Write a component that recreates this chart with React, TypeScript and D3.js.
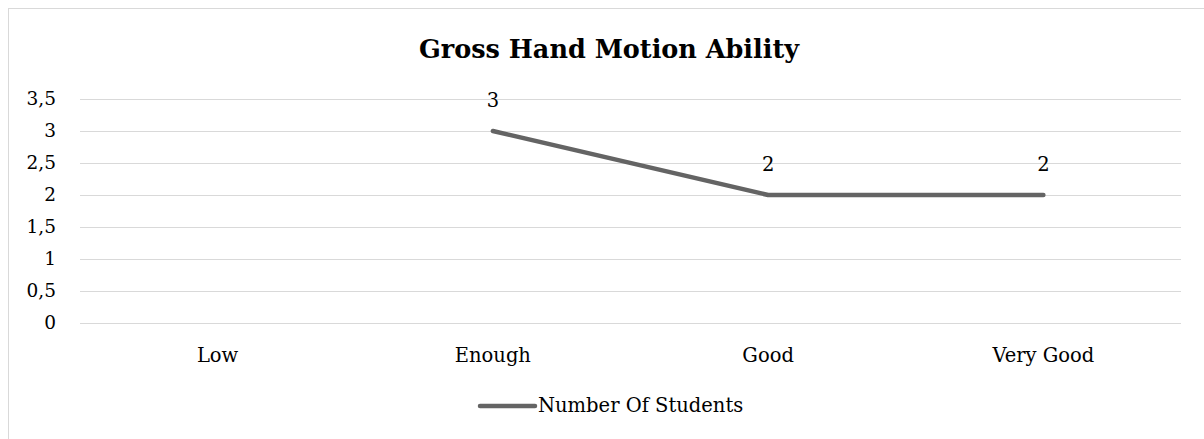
import React from "react";
import * as d3 from "d3";

const title = "Gross Hand Motion Ability";
const categories = ["Low", "Enough", "Good", "Very Good"];
const seriesName = "Number Of Students";
const values: (number | null)[] = [null, 3, 2, 2];
const yTicks = [0, 0.5, 1, 1.5, 2, 2.5, 3, 3.5];

const W = 1204;
const H = 439;
const FONT = "'DejaVu Serif', serif";

export default function App() {
  const x = d3.scaleBand<string>().domain(categories).range([80, 1181]).padding(0);
  const y = d3.scaleLinear().domain([0, 3.5]).range([323, 99]);
  const cx = (c: string) => (x(c) as number) + x.bandwidth() / 2;
  const pts = categories.map((c, i) => ({ c, v: values[i] }));
  const line = d3
    .line<{ c: string; v: number | null }>()
    .defined((d) => d.v !== null)
    .x((d) => cx(d.c))
    .y((d) => y(d.v as number));
  const fmt = (v: number) => String(v).replace(".", ",");
  const lineColor = "#646464";
  return (
    <svg
      width={W}
      height={H}
      style={{ position: "absolute", left: 0, top: 0, background: "#fff" }}
      fontFamily={FONT}
    >
      <rect x={8.5} y={8.5} width={1210} height={460} fill="#fff" stroke="#d9d9d9" strokeWidth={1} />
      <text x={609} y={58} textAnchor="middle" fontWeight="bold" fontSize={25.5} fill="#000">
        {title}
      </text>
      {yTicks.map((t) => (
        <g key={t}>
          <line x1={80} x2={1181} y1={Math.round(y(t)) + 0.5} y2={Math.round(y(t)) + 0.5} stroke="#d9d9d9" strokeWidth={1} />
          <text x={56} y={y(t)} dy="0.35em" textAnchor="end" fontSize={18.5} fill="#000">
            {fmt(t)}
          </text>
        </g>
      ))}
      {categories.map((c) => (
        <text key={c} x={cx(c)} y={362} textAnchor="middle" fontSize={19.5} fill="#000">
          {c}
        </text>
      ))}
      <path d={line(pts) || ""} fill="none" stroke={lineColor} strokeWidth={4.5} strokeLinecap="round" strokeLinejoin="round" />
      {pts.map((p) =>
        p.v === null ? null : (
          <text key={p.c} x={cx(p.c)} y={y(p.v) - 24} textAnchor="middle" fontSize={19.5} fill="#000">
            {fmt(p.v)}
          </text>
        )
      )}
      <line x1={480} x2={535} y1={406} y2={406} stroke={lineColor} strokeWidth={4.5} strokeLinecap="round" />
      <text x={538} y={412} fontSize={19.5} fill="#000">
        {seriesName}
      </text>
    </svg>
  );
}
